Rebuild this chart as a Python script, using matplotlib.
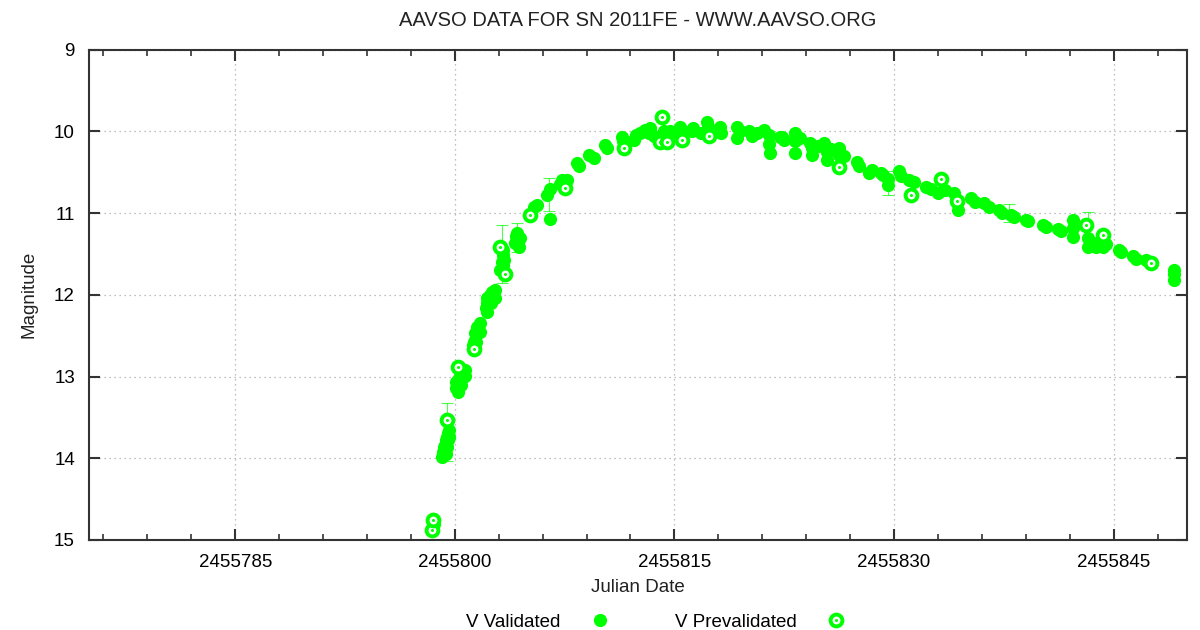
import matplotlib
matplotlib.use("Agg")
import matplotlib.pyplot as plt
from matplotlib.ticker import MultipleLocator

plt.rcParams['font.family'] = ['Liberation Sans', 'DejaVu Sans']

# V Validated observations (Julian Date, magnitude)
v_jd = [2455798.49, 2455798.56,
        2455799.58, 2455799.51, 2455799.44, 2455799.37, 2455799.31, 2455799.24, 2455799.17, 2455799.10,
        2455799.44, 2455799.37, 2455799.51, 2455799.24, 2455799.58, 2455799.30,
        2455800.67, 2455800.53, 2455800.40, 2455800.26, 2455800.05, 2455800.05, 2455800.19, 2455800.53, 2455800.19,
        2455800.67, 2455800.40,
        2455801.69, 2455801.55, 2455801.35, 2455801.28, 2455801.55, 2455801.35, 2455801.21, 2455801.69, 2455801.45,
        2455802.78, 2455802.57, 2455802.23, 2455802.10, 2455802.17, 2455802.40, 2455802.23, 2455802.78, 2455802.50,
        2455803.26, 2455803.39, 2455803.12, 2455803.32, 2455803.19, 2455803.26, 2455803.19,
        2455804.28, 2455804.48, 2455804.14, 2455804.41, 2455804.35, 2455804.20,
        2455805.44, 2455805.64, 2455806.32, 2455806.53, 2455806.53, 2455807.21, 2455807.34, 2455807.68,
        2455808.37, 2455808.50, 2455809.18, 2455809.52, 2455810.27, 2455810.40, 2455811.43, 2455811.50,
        2455812.25, 2455812.40, 2455812.66, 2455813.00, 2455813.27, 2455813.34, 2455813.60, 2455814.30,
        2455814.70, 2455814.90, 2455815.38, 2455815.60, 2455816.20, 2455816.30, 2455816.80, 2455817.22,
        2455817.30, 2455817.36, 2455818.11, 2455818.20, 2455819.26, 2455819.26, 2455819.50, 2455820.08,
        2455820.30, 2455820.63, 2455821.10, 2455821.44, 2455821.44, 2455821.51, 2455822.19, 2455822.33,
        2455822.50, 2455823.22, 2455823.22, 2455823.22, 2455823.60, 2455824.24, 2455824.37, 2455824.37,
        2455824.80, 2455825.19, 2455825.40, 2455825.40, 2455825.70, 2455826.21, 2455826.21, 2455826.60,
        2455827.44, 2455827.60, 2455828.32, 2455828.50, 2455829.14, 2455829.28, 2455829.62, 2455829.62,
        2455830.37, 2455830.50, 2455831.05, 2455831.40, 2455832.21, 2455832.50, 2455833.02, 2455833.50,
        2455834.11, 2455834.39, 2455834.39, 2455835.27, 2455835.50, 2455836.16, 2455836.50, 2455837.18,
        2455837.40, 2455838.00, 2455838.20, 2455839.02, 2455839.16, 2455840.18, 2455840.40, 2455841.20,
        2455841.40, 2455842.22, 2455842.22, 2455842.22, 2455843.24, 2455843.24, 2455843.50, 2455843.79,
        2455844.00, 2455844.26, 2455844.50, 2455845.35, 2455845.50, 2455846.31, 2455846.50, 2455847.19,
        2455849.10, 2455849.10, 2455849.10]
v_mag = [14.74, 14.80,
         13.65, 13.69, 13.74, 13.78, 13.84, 13.86, 13.92, 13.98,
         13.86, 13.95, 13.78, 13.95, 13.74, 13.92,
         12.92, 12.94, 12.99, 13.02, 13.07, 13.14, 13.19, 13.00, 13.10,
         12.99, 13.10,
         12.34, 12.39, 12.47, 12.58, 12.45, 12.55, 12.62, 12.45, 12.58,
         11.94, 11.96, 12.04, 12.16, 12.21, 12.00, 12.10, 12.04, 12.10,
         11.51, 11.57, 11.69, 11.63, 11.60, 11.45, 11.70,
         11.24, 11.30, 11.36, 11.41, 11.33, 11.28,
         10.93, 10.90, 10.78, 10.71, 11.07, 10.64, 10.59, 10.59,
         10.38, 10.42, 10.29, 10.32, 10.16, 10.20, 10.07, 10.12,
         10.10, 10.04, 10.02, 9.98, 10.02, 9.96, 10.05, 10.00,
         10.00, 10.05, 9.94, 10.00, 10.00, 9.96, 10.02, 9.89,
         9.95, 10.04, 9.94, 10.02, 9.94, 10.08, 10.00, 10.00,
         10.05, 10.02, 9.98, 10.04, 10.15, 10.26, 10.07, 10.07,
         10.10, 10.02, 10.12, 10.26, 10.08, 10.14, 10.20, 10.29,
         10.18, 10.14, 10.25, 10.35, 10.22, 10.20, 10.29, 10.30,
         10.37, 10.42, 10.51, 10.47, 10.51, 10.53, 10.58, 10.65,
         10.49, 10.55, 10.59, 10.62, 10.68, 10.70, 10.75, 10.72,
         10.75, 10.85, 10.96, 10.81, 10.86, 10.87, 10.92, 10.96,
         11.00, 11.02, 11.05, 11.08, 11.10, 11.14, 11.17, 11.20,
         11.22, 11.08, 11.18, 11.29, 11.41, 11.30, 11.38, 11.41,
         11.35, 11.41, 11.38, 11.45, 11.48, 11.53, 11.56, 11.57,
         11.69, 11.75, 11.82]

# V Prevalidated observations
p_jd = [2455798.42, 2455798.49, 2455799.44, 2455800.19, 2455801.28, 2455803.12, 2455803.46,
        2455805.16, 2455807.55, 2455811.57, 2455814.16, 2455814.02, 2455814.50, 2455815.52,
        2455817.36, 2455826.21, 2455831.19, 2455833.23, 2455834.30, 2455843.11, 2455844.26,
        2455847.53]
p_mag = [14.88, 14.76, 13.53, 12.88, 12.66, 11.41, 11.75,
         11.02, 10.69, 10.20, 9.82, 10.13, 10.13, 10.10,
         10.06, 10.44, 10.78, 10.58, 10.85, 11.14, 11.27,
         11.61]

# observations with error bars
e_jd = [2455799.44, 2455803.19, 2455804.28, 2455806.46, 2455829.62, 2455837.86, 2455843.24]
e_mag = [13.68, 11.50, 11.30, 10.77, 10.63, 11.00, 11.20]
e_err = [0.36, 0.36, 0.18, 0.20, 0.15, 0.11, 0.22]

green = '#00ff00'

fig = plt.figure(figsize=(12, 6.3), dpi=100)
ax = fig.add_axes([0.074, 0.143, 0.915, 0.778])

ax.errorbar(e_jd, e_mag, yerr=e_err, fmt='none', ecolor=green, elinewidth=0.8,
            capsize=4, capthick=0.8, alpha=0.7, zorder=2)
l1, = ax.plot(v_jd, v_mag, 'o', color=green, markersize=9.5, markeredgewidth=0,
              linestyle='none', zorder=3, label='V Validated')
ring, = ax.plot(p_jd, p_mag, 'o', markerfacecolor='white', markeredgecolor=green,
                markersize=8.5, markeredgewidth=2.8, linestyle='none', zorder=4)
dot, = ax.plot(p_jd, p_mag, 'o', color=green, markersize=2.2, markeredgewidth=0,
               linestyle='none', zorder=5)

ax.set_xlim(2455775, 2455850)
ax.set_ylim(15, 9)
ax.xaxis.set_major_locator(MultipleLocator(15))
ax.xaxis.set_minor_locator(MultipleLocator(3))
ax.yaxis.set_major_locator(MultipleLocator(1))
ax.ticklabel_format(useOffset=False, style='plain', axis='x')

ax.grid(True, which='major', linestyle=(0, (1, 3)), color='#aaaaaa', linewidth=0.9)
ax.tick_params(which='both', direction='in', top=True, right=True, colors='#333333',
               labelcolor='black', labelsize=13.5)
ax.tick_params(which='major', length=8, width=1.5, pad=10)
ax.tick_params(which='minor', length=4, width=1.2)
for s in ax.spines.values():
    s.set_linewidth(1.5)
    s.set_color('#333333')

ax.set_xlabel('Julian Date', fontsize=13.5, color='#222222', labelpad=6)
ax.set_ylabel('Magnitude', fontsize=13.5, color='#222222', labelpad=12)
ax.set_title('AAVSO DATA FOR SN 2011FE - WWW.AAVSO.ORG', fontsize=14.5, color='#222222', pad=17)

fig.legend([l1, (ring, dot)], ['V Validated', 'V Prevalidated'], loc='lower center',
           bbox_to_anchor=(0.551, -0.028), ncol=2, markerfirst=False, frameon=False,
           fontsize=13.5, columnspacing=2.9, handlelength=2.2, handletextpad=1.0)

fig.savefig('out.png', dpi=100)
